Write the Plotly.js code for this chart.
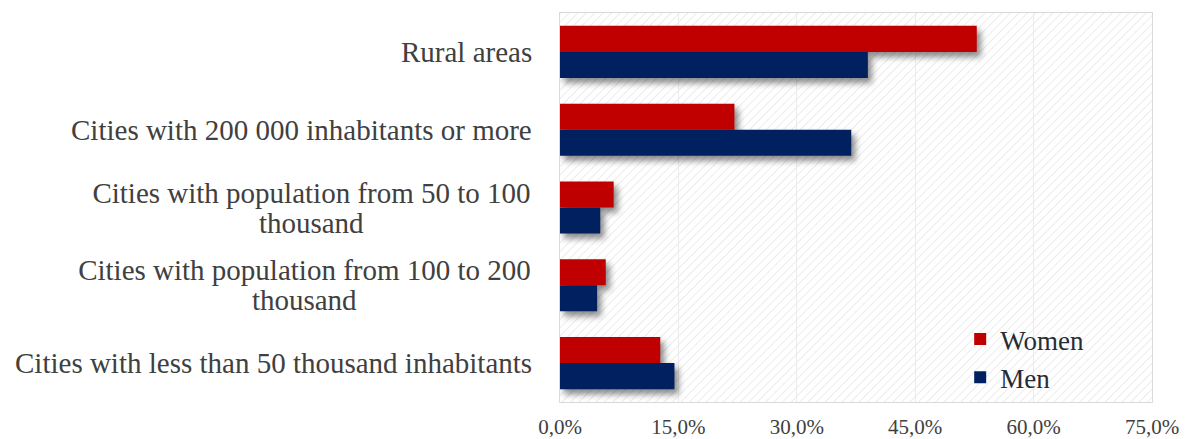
<!DOCTYPE html>
<html>
<head>
<meta charset="utf-8">
<script src="https://cdn.plot.ly/plotly-3.0.1.min.js"></script>
<style>
  html, body { margin: 0; padding: 0; background: #fff; }
  #chart { width: 1188px; height: 439px; }
  .bars path { filter: drop-shadow(4px 5px 3px rgba(0,0,0,0.45)); }
</style>
</head>
<body>
<div id="chart"></div>
<script>
// Categories, top to bottom as displayed
const categories = [
  "Rural areas",
  "Cities with 200 000 inhabitants or more",
  "Cities with population from 50 to 100<br>thousand",
  "Cities with population from 100 to 200<br>thousand",
  "Cities with less than 50 thousand inhabitants"
];
const catKeys = ["rural", "c200plus", "c50to100", "c100to200", "c50less"];
const women = [52.8, 22.1, 6.8, 5.8, 12.7];
const men = [39.0, 36.9, 5.1, 4.7, 14.5];
const xTicks = [0, 15, 30, 45, 60, 75];
const xTickText = xTicks.map(v => v.toFixed(1).replace(".", ",") + "%");

const FONT = "'Liberation Serif', 'Times New Roman', Times, serif";
const LABEL_SIZE = 29;
const LINE_GAP = 30;

const hatch = "<svg xmlns='http://www.w3.org/2000/svg' width='592' height='389'>" +
  "<defs><pattern id='p' width='6' height='6' patternUnits='userSpaceOnUse' patternTransform='rotate(45)'>" +
  "<line x1='0' y1='0' x2='0' y2='6' stroke='#e4e4e4' stroke-width='1.4'/></pattern></defs>" +
  "<rect width='100%' height='100%' fill='url(#p)'/></svg>";

const traces = [
  { type: "bar", orientation: "h", name: "Women", y: catKeys, x: women,
    marker: { color: "#C00000" }, hoverinfo: "x+name" },
  { type: "bar", orientation: "h", name: "Men", y: catKeys, x: men,
    marker: { color: "#002060" }, hoverinfo: "x+name" }
];

// measure text to center wrapped lines under the first line
const ctx = document.createElement("canvas").getContext("2d");
ctx.font = LABEL_SIZE + "px " + FONT;

const annotations = [];
categories.forEach((c, i) => {
  const lines = c.split("<br>");
  const base = {
    xref: "paper", yref: "y", x: 0, y: catKeys[i], xanchor: "right", yanchor: "middle",
    xshift: -26, showarrow: false, align: "center",
    font: { family: FONT, size: LABEL_SIZE, color: "#404040" }
  };
  if (lines.length === 1) {
    annotations.push(Object.assign({}, base, { text: c }));
  } else {
    const w = Math.ceil(Math.max(...lines.map(l => ctx.measureText(l).width))) + 2;
    lines.forEach((l, k) => {
      const off = (k - (lines.length - 1) / 2) * LINE_GAP;
      annotations.push(Object.assign({}, base, { text: l, width: w, yshift: -off }));
    });
  }
});

const layout = {
  width: 1188, height: 439,
  margin: { l: 560, r: 36, t: 13, b: 37, pad: 0 },
  font: { family: FONT },
  paper_bgcolor: "#ffffff",
  plot_bgcolor: "#ffffff",
  barmode: "group",
  bargap: 0.33,
  bargroupgap: 0,
  showlegend: true,
  legend: {
    x: 0.676, y: 0.0, xanchor: "left", yanchor: "bottom",
    bgcolor: "rgba(0,0,0,0)",
    font: { family: FONT, size: 27, color: "#262c36" },
    tracegroupgap: 0
  },
  xaxis: {
    range: [0, 75], tickmode: "array", tickvals: xTicks, ticktext: xTickText,
    showgrid: true, gridcolor: "#ebebeb", gridwidth: 1,
    zeroline: false,
    showline: true, linecolor: "#d9d9d9", linewidth: 1, mirror: true,
    ticks: "outside", ticklen: 6, tickcolor: "rgba(0,0,0,0)",
    tickfont: { family: FONT, size: 21, color: "#404040" },
    fixedrange: true
  },
  yaxis: {
    type: "category", categoryorder: "array", categoryarray: catKeys,
    autorange: "reversed",
    showticklabels: false, ticks: "",
    showgrid: false, zeroline: false,
    showline: true, linecolor: "#d9d9d9", linewidth: 1, mirror: true,
    fixedrange: true
  },
  annotations: annotations,
  images: [{
    source: "data:image/svg+xml;charset=utf-8," + encodeURIComponent(hatch),
    xref: "paper", yref: "paper", x: 0, y: 1, sizex: 1, sizey: 1,
    xanchor: "left", yanchor: "top", sizing: "stretch", layer: "below"
  }]
};

Plotly.newPlot("chart", traces, layout, { displayModeBar: false, staticPlot: true });
</script>
</body>
</html>
